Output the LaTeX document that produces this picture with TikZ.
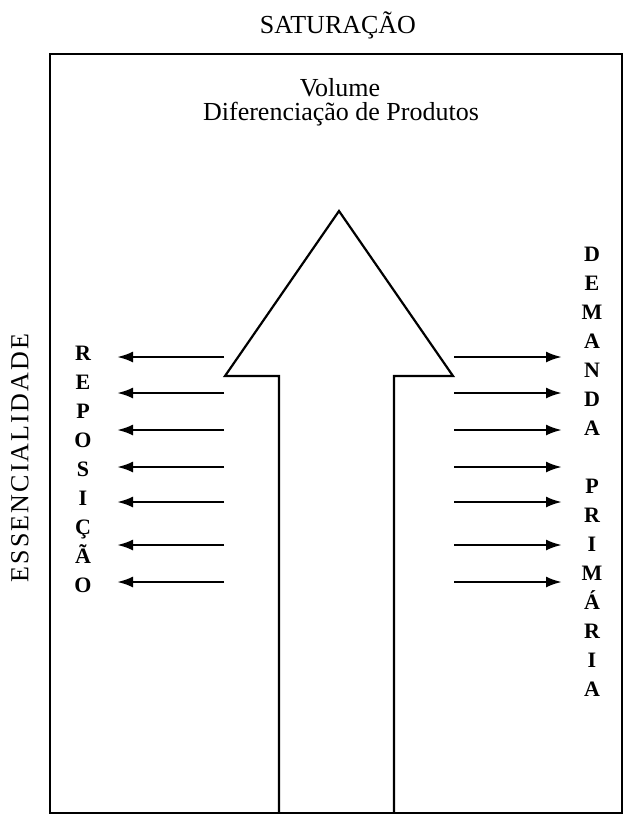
\documentclass[tikz,border=0pt]{standalone}
\usepackage{fontspec}
\setmainfont{Liberation Serif}
\usetikzlibrary{arrows.meta}

\tikzset{
  frame/.style={line width=2.2pt},
  bigarrow/.style={line width=2.2pt, line join=miter},
  flow/.style={line width=2.5pt, -{Latex[length=16pt,width=11pt]}},
  label/.style={font=\fontsize{26}{30}\selectfont, inner sep=0pt},
  column/.style={font=\fontsize{22}{29}\selectfont\bfseries, align=center, inner sep=0pt},
}

\begin{document}
\begin{tikzpicture}[x=1pt,y=-1pt]
	\useasboundingbox (0,0) rectangle (626,815);

	\node[label] (sat) at (338,25) {SATURAÇÃO};
	\draw[frame] (50,54) rectangle (622,813);
	\node[label] (vol) at (340,88) {Volume};
	\node[label] (dif) at (341,114) {Diferenciação de Produtos};

	% the big arrow in the middle
	\draw[bigarrow] (279,813) -- (279,376) -- (225,376) -- (339,211) -- (453,376) -- (394,376) -- (394,813);

	\node[label, rotate=90, font=\fontsize{26}{30}\selectfont\addfontfeatures{LetterSpace=8}] (ess) at (20,458) {ESSENCIALIDADE};

	\node[column] (rep) at (83,469) {R\\E\\P\\O\\S\\I\\Ç\\Ã\\O};
	\node[column] (dem) at (592,472) {D\\E\\M\\A\\N\\D\\A\\ \\P\\R\\I\\M\\Á\\R\\I\\A};

	% side arrows
	\foreach \y [count=\i] in {357,393,430,467,502,545,582} {
		\coordinate (lt\i) at (224,\y);
		\coordinate (lh\i) at (117,\y);
		\draw[flow] (lt\i) -- (lh\i);
		\coordinate (rt\i) at (454,\y);
		\coordinate (rh\i) at (562,\y);
		\draw[flow] (rt\i) -- (rh\i);
	}
\end{tikzpicture}
\end{document}
